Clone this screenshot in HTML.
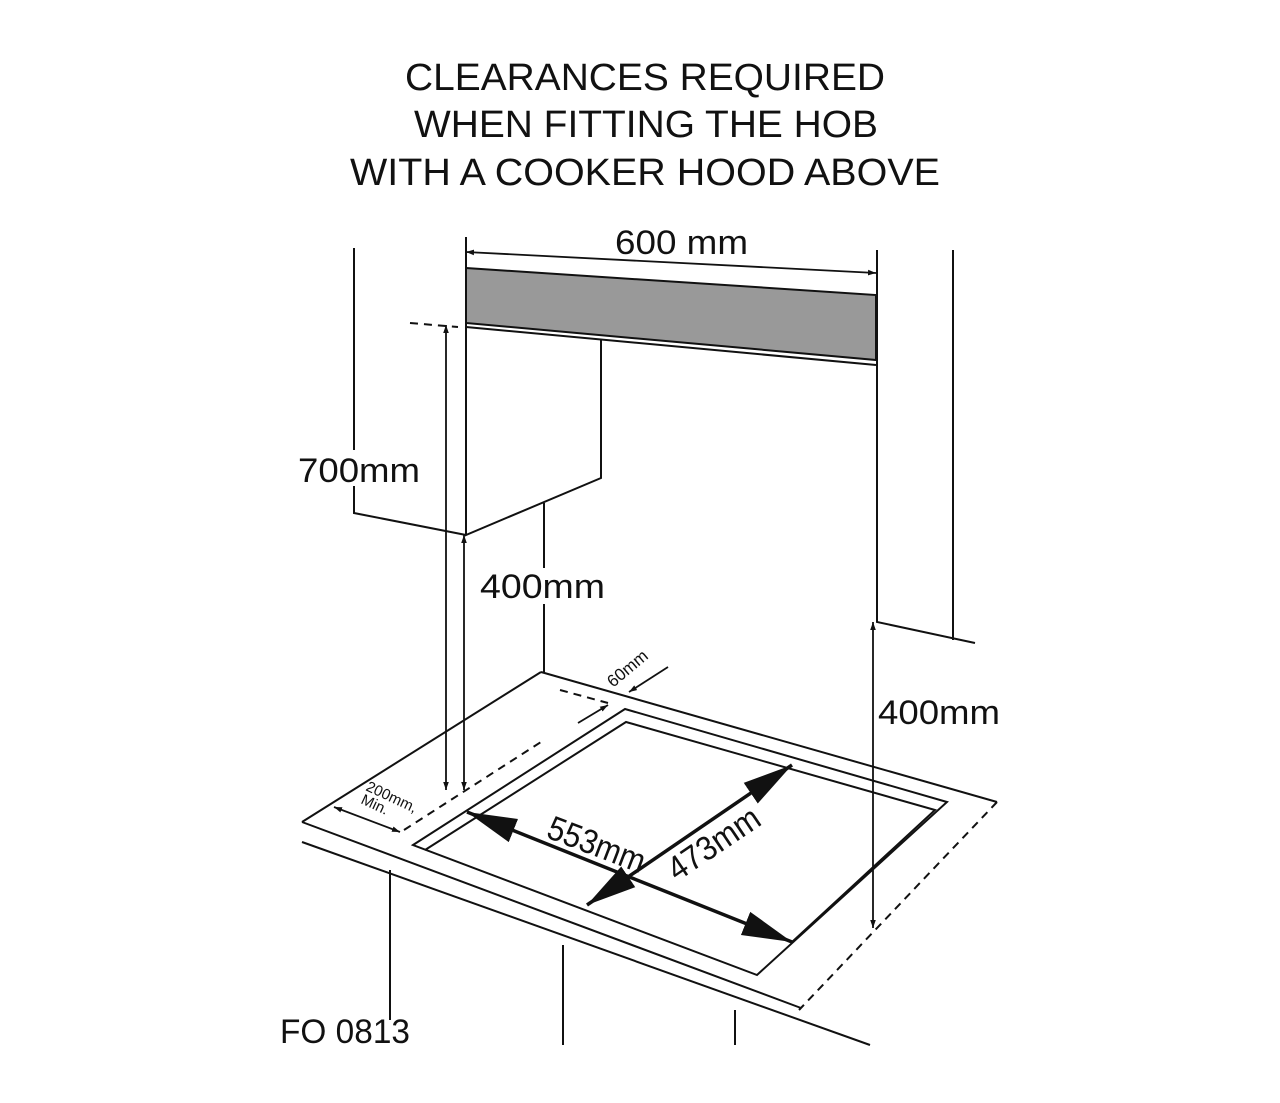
<!DOCTYPE html>
<html><head><meta charset="utf-8"><style>
html,body{margin:0;padding:0;background:#fff;}
svg{display:block;}
text{font-family:"Liberation Sans",Arial,sans-serif;fill:#111;}
</style></head><body>
<svg width="1280" height="1103" viewBox="0 0 1280 1103" xmlns="http://www.w3.org/2000/svg">
<defs>
<marker id="a" viewBox="0 0 10 10" refX="10" refY="5" markerWidth="8" markerHeight="8" orient="auto-start-reverse" markerUnits="userSpaceOnUse"><path d="M0,1.5 L10,5 L0,8.5 z" fill="#111"/></marker>
<marker id="b" viewBox="0 0 10 10" refX="10" refY="5" markerWidth="50" markerHeight="50" orient="auto-start-reverse" markerUnits="userSpaceOnUse"><path d="M0,2.5 L10,5 L0,7.5 z" fill="#111"/></marker>
</defs>
<g font-size="38" text-anchor="middle">
<text x="645" y="90" textLength="480" lengthAdjust="spacingAndGlyphs">CLEARANCES REQUIRED</text>
<text x="646" y="137" textLength="464" lengthAdjust="spacingAndGlyphs">WHEN FITTING THE HOB</text>
<text x="645" y="185" textLength="590" lengthAdjust="spacingAndGlyphs">WITH A COOKER HOOD ABOVE</text>
</g>
<g stroke="#111" stroke-width="2" fill="none">
<path d="M354,248 V513 L466,535"/>
<path d="M466,237 V535 L601,478 V340"/>
<path d="M544,503 V672"/>
<path d="M466,268 L876,295 L876,360 L466,323 Z" fill="#999"/>
<path d="M466,327 L876,365"/>
<path d="M877,250 V622 L975,643"/>
<path d="M953,250 V640"/>
<path d="M541,672 L997,802"/>
<path d="M302,822 L541,672"/>
<path d="M302,822 L801,1008"/>
<path d="M302,842 L870,1045"/>
<path d="M390,870 V1020"/>
<path d="M563,945 V1045"/>
<path d="M735,1010 V1045"/>
<path d="M413,845 L625,709 L947,802 L757,975 Z"/>
<path d="M425,850 L626,722 L935,810 L792,942"/>
</g>
<g stroke="#111" stroke-width="2" fill="none" stroke-dasharray="8,6">
<path d="M410,323 L458,327"/>
<path d="M997,802 L799,1010"/>
<path d="M404,830 L541,742"/>
<path d="M560,690 L608,703"/>
</g>
<g stroke="#111" stroke-width="1.8" fill="none">
<path d="M466,252 L876,273" marker-start="url(#a)" marker-end="url(#a)"/>
<path d="M446,325 V790" marker-start="url(#a)" marker-end="url(#a)"/>
<path d="M464,535 V790" marker-start="url(#a)" marker-end="url(#a)"/>
<path d="M873,622 V928" marker-start="url(#a)" marker-end="url(#a)"/>
<path d="M334,807 L400,832" marker-start="url(#a)" marker-end="url(#a)"/>
<path d="M668,667 L629,692" marker-end="url(#a)"/>
<path d="M578,723 L608,705" marker-end="url(#a)"/>
</g>
<g stroke="#111" stroke-width="3.5" fill="none">
<path d="M467,812 L792,942" marker-start="url(#b)" marker-end="url(#b)"/>
<path d="M792,765 L587,905" marker-start="url(#b)" marker-end="url(#b)"/>
</g>
<g fill="#fff">
<rect x="340" y="450" width="30" height="36"/>
<rect x="530" y="568" width="30" height="36"/>
</g>
<g font-size="34">
<text x="615" y="254" textLength="133" lengthAdjust="spacingAndGlyphs">600 mm</text>
<text x="298" y="482" textLength="122" lengthAdjust="spacingAndGlyphs">700mm</text>
<text x="480" y="598" textLength="125" lengthAdjust="spacingAndGlyphs">400mm</text>
<text x="878" y="724" textLength="122" lengthAdjust="spacingAndGlyphs">400mm</text>
<text x="280" y="1043" textLength="130" lengthAdjust="spacingAndGlyphs">FO 0813</text>
<text transform="translate(545,837) rotate(21)" textLength="102" lengthAdjust="spacingAndGlyphs">553mm</text>
<text transform="translate(677,882) rotate(-34)" textLength="104" lengthAdjust="spacingAndGlyphs">473mm</text>
</g>
<g font-size="15">
<text transform="translate(365,790) rotate(25)">200mm,</text>
<text transform="translate(360,803) rotate(25)">Min.</text>
<text transform="translate(613,688) rotate(-40)" font-size="17">60mm</text>
</g>
</svg>
</body></html>
